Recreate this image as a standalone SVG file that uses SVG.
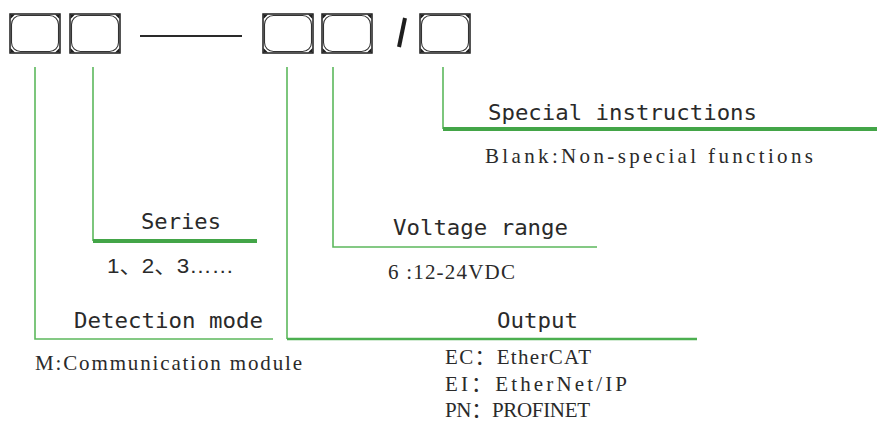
<svg xmlns="http://www.w3.org/2000/svg" width="877" height="423" viewBox="0 0 877 423">
<style>
.frame{fill:none;stroke:#1e1e1e;stroke-width:1.5}
.inner{fill:none;stroke:#333;stroke-width:1.1}
.corner{fill:#1e1e1e}
.ln{stroke:#5cb85c;stroke-width:1.6;fill:none}
.thick{stroke:#43a548;stroke-width:4;fill:none}
.mid{stroke:#4caf50;stroke-width:2.4;fill:none}
.head{font-family:"DejaVu Sans Mono","Liberation Mono",monospace;font-size:21px;fill:#2a2a2a}
.desc{font-family:"Liberation Serif","Noto Sans CJK SC",serif;font-size:21px;fill:#2a2a2a}
.num{font-family:"Liberation Sans","Noto Sans CJK SC",sans-serif;font-size:21px;fill:#2a2a2a}
</style>
<defs>
<g id="box">
<rect class="frame" x="0" y="0" width="50" height="39"/>
<rect class="inner" x="1.5" y="1.5" width="47" height="36" rx="9" ry="9"/>
<path class="corner" d="M0.5,0.5 L5,0.5 L0.5,5 Z M49.5,0.5 L45,0.5 L49.5,5 Z M0.5,38.5 L5,38.5 L0.5,34 Z M49.5,38.5 L45,38.5 L49.5,34 Z"/>
</g>
</defs>

<g id="code-boxes">
<use id="box1" href="#box" x="10" y="14"/>
<use id="box2" href="#box" x="70" y="14"/>
<line x1="140" y1="36" x2="242" y2="36" stroke="#2a2a2a" stroke-width="2"/>
<use id="box3" href="#box" x="263" y="14"/>
<use id="box4" href="#box" x="322" y="14"/>
<line x1="405" y1="18" x2="399" y2="47" stroke="#1e1e1e" stroke-width="4"/>
<use id="box5" href="#box" x="420" y="14"/>
</g>

<g id="connectors">
<path class="ln" d="M35,67 V339 H273"/>
<path class="ln" d="M93,67 V241"/>
<path class="thick" d="M93,241 H257"/>
<path class="ln" d="M287,67 V339"/>
<path class="mid" d="M287,339 H697"/>
<path class="ln" d="M333,67 V247 H597"/>
<path class="ln" d="M443,67 V129"/>
<path class="thick" d="M443,129 H877"/>
</g>

<g id="special">
<text class="head" x="488" y="120" textLength="269" lengthAdjust="spacingAndGlyphs">Special instructions</text>
<text class="desc" x="485" y="163" textLength="328" lengthAdjust="spacing">Blank:Non-special functions</text>
</g>

<g id="series">
<text class="head" x="141" y="229" textLength="80" lengthAdjust="spacingAndGlyphs">Series</text>
<text class="num" x="107" y="273" textLength="127" lengthAdjust="spacingAndGlyphs">1、2、3……</text>
</g>

<g id="voltage">
<text class="head" x="393" y="235" textLength="175" lengthAdjust="spacingAndGlyphs">Voltage range</text>
<text class="desc" x="388" y="279" textLength="127" lengthAdjust="spacing">6 :12-24VDC</text>
</g>

<g id="detection">
<text class="head" x="74" y="328" textLength="189" lengthAdjust="spacingAndGlyphs">Detection mode</text>
<text class="desc" x="35" y="370" textLength="267" lengthAdjust="spacing">M:Communication module</text>
</g>

<g id="output">
<text class="head" x="497" y="328" textLength="81" lengthAdjust="spacingAndGlyphs">Output</text>
<text class="desc" x="445" y="364" textLength="146" lengthAdjust="spacing">EC：EtherCAT</text>
<text class="desc" x="445" y="391" textLength="182" lengthAdjust="spacing">EI：EtherNet/IP</text>
<text class="desc" x="445" y="417" textLength="145" lengthAdjust="spacing">PN：PROFINET</text>
</g>
</svg>
